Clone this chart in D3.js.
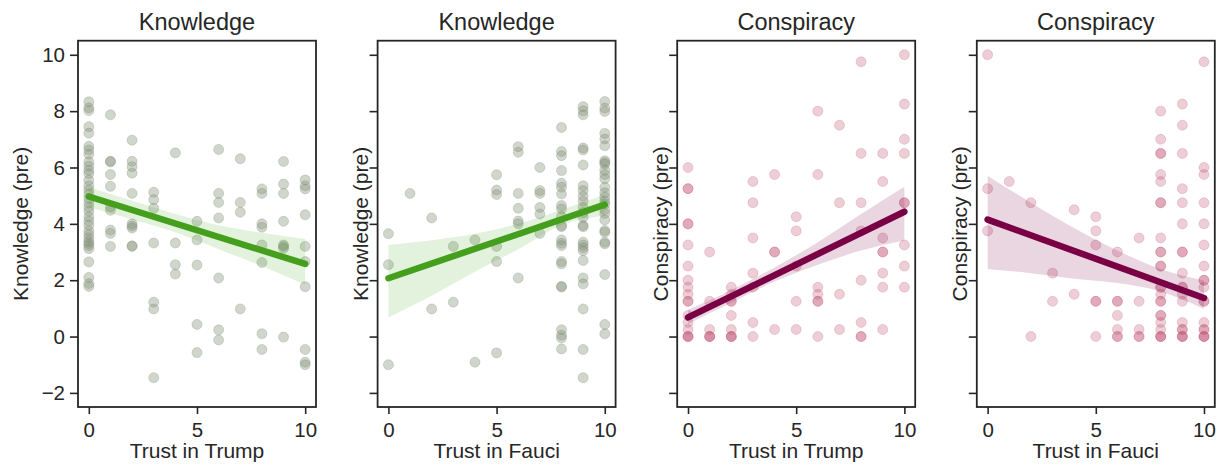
<!DOCTYPE html>
<html>
<head>
<meta charset="utf-8">
<script src="https://cdn.jsdelivr.net/npm/d3@7"></script>
<style>
  body { margin: 0; background: #fff; }
  svg text { font-family: "Liberation Sans", Arial, Helvetica, sans-serif; fill: #262626; }
</style>
</head>
<body>
<svg id="chart" width="1222" height="472"></svg>
<script>
// ---- data -------------------------------------------------------------
// Scores grouped by trust rating 0..10 (index = rating)
const knowledgeByTrumpTrust = [
  [8.33, 8.12, 8.02, 7.45, 7.22, 6.75, 6.62, 6.47, 6.2, 6.05, 5.9, 5.78, 5.55, 5.35, 5.2, 5.05, 4.9, 4.75, 4.6, 4.45, 4.25, 4.1, 3.95, 3.75, 3.62, 3.5, 3.38, 3.3, 3.22, 3.12, 2.65, 2.1, 1.88, 1.78],
  [7.87, 6.22, 6.2, 5.75, 5.33, 4.6, 4.48, 3.78, 3.66, 3.2],
  [6.97, 6.22, 6.03, 5.8, 5.08, 4.0, 3.92, 3.85, 3.22, 3.2],
  [5.12, 4.86, 4.55, 3.32, 1.22, 0.98, -1.46],
  [6.52, 3.32, 2.55, 2.22],
  [4.09, 3.43, 2.54, 0.43, -0.57],
  [6.64, 5.08, 4.76, 4.21, 2.08, 0.24, -0.12],
  [6.31, 4.76, 4.41, 0.98],
  [5.24, 5.08, 4.0, 3.88, 3.25, 2.63, 0.1, -0.46],
  [6.21, 5.41, 5.08, 4.09, 3.25, 3.2, 3.13, -0.02],
  [5.56, 5.35, 5.24, 4.32, 3.2, 2.66, 1.77, -0.46, -0.91, -1.0]
];
const knowledgeByFauciTrust = [
  [3.65, 2.55, -1.0],
  [5.08],
  [4.21, 0.98],
  [3.2, 1.22],
  [3.43, -0.91],
  [5.74, 5.2, 5.04, 3.2, 2.66, -0.58],
  [6.74, 6.54, 5.08, 4.55, 4.1, 4.0, 2.08],
  [6.0, 5.18, 5.08, 4.58, 4.35, 3.66],
  [7.42, 6.57, 6.42, 5.89, 5.44, 5.3, 5.06, 4.65, 4.53, 4.26, 3.94, 3.9, 3.43, 3.31, 3.23, 2.66, 2.58, 1.78, 1.76, 0.24, 0.05, -0.05, -0.44],
  [8.16, 8.01, 7.87, 6.69, 6.62, 6.09, 5.35, 5.18, 4.98, 4.8, 4.59, 4.4, 4.23, 3.94, 3.9, 3.35, 3.25, 3.15, 3.05, 2.7, 2.08, 1.87, 0.98, -0.46, -1.46],
  [8.34, 8.11, 7.99, 7.21, 7.01, 6.77, 6.24, 6.18, 6.12, 5.9, 5.75, 5.6, 5.3, 5.1, 4.95, 4.8, 4.7, 4.5, 4.37, 4.14, 3.76, 3.7, 3.35, 3.29, 2.2, 0.43, 0.1]
];
const conspiracyByTrumpTrust = [
  [6.0, 5.25, 5.25, 4.0, 4.0, 3.25, 2.5, 2.0, 1.75, 1.5, 1.25, 1.25, 0.75, 0.5, 0.25, 0, 0, 0],
  [3.0, 1.25, 0.25, 0, 0, 0],
  [1.75, 1.5, 1.25, 1.25, 0.75, 0.25, 0, 0, 0],
  [5.5, 4.75, 3.5, 2.25, 1.75, 0.5, 0],
  [5.75, 3.0, 3.0, 0.25],
  [4.25, 3.75, 2.5, 1.25, 0.25],
  [8.0, 5.75, 1.75, 1.5, 1.25, 1.25, 0],
  [7.5, 4.75, 1.5, 0.25],
  [9.75, 6.5, 4.75, 3.75, 2.0, 0.5, 0, 0],
  [6.5, 5.5, 3.5, 3.0, 3.0, 2.25, 1.75, 0.25],
  [10.0, 8.25, 7.0, 6.5, 4.75, 4.75, 3.25, 2.5, 1.75]
];
const conspiracyByFauciTrust = [
  [10.0, 5.25, 3.75],
  [5.5],
  [4.75, 0],
  [2.25, 1.25],
  [4.5, 1.5],
  [4.25, 3.75, 3.25, 1.25, 1.25, 0],
  [3.0, 1.25, 1.25, 0.75, 0.25, 0, 0],
  [3.5, 1.25, 0.25, 0, 0],
  [8.0, 7.0, 6.5, 6.5, 5.75, 5.5, 4.75, 4.75, 3.5, 3.0, 3.0, 2.5, 2.5, 1.75, 1.75, 1.5, 1.25, 1.25, 0.75, 0.75, 0.5, 0.25, 0, 0, 0],
  [8.25, 7.5, 6.5, 5.25, 4.75, 4.0, 3.0, 3.0, 2.25, 1.75, 1.75, 1.5, 1.25, 0.5, 0.25, 0.25, 0, 0, 0],
  [9.75, 6.0, 5.75, 4.75, 4.0, 3.25, 2.5, 2.0, 2.0, 1.75, 1.25, 1.25, 0.5, 0.25, 0.25, 0, 0, 0]
];

// Fitted regression lines (value at rating 0 and rating 10)
const fitKnowledgeTrump = [4.97, 2.58];
const fitKnowledgeFauci = [2.07, 4.68];
const fitConspiracyTrump = [0.68, 4.43];
const fitConspiracyFauci = [4.15, 1.37];

// 95% confidence band, sampled at these ratings
const bandRatings = [0, 2, 4, 6, 8, 10];
const bandKnowledgeTrumpLow  = [4.6, 4.15, 3.7, 3.1, 2.5, 1.84];
const bandKnowledgeTrumpHigh = [5.3, 4.82, 4.35, 3.95, 3.68, 3.46];
const bandKnowledgeFauciLow  = [0.68, 1.45, 2.3, 3.1, 3.95, 4.29];
const bandKnowledgeFauciHigh = [3.25, 3.42, 3.65, 4.0, 4.5, 5.04];
const bandConspiracyTrumpLow  = [0.45, 1.2, 1.95, 2.55, 3.05, 3.42];
const bandConspiracyTrumpHigh = [0.95, 1.65, 2.45, 3.35, 4.35, 5.32];
const bandConspiracyFauciLow  = [2.4, 2.25, 2.05, 1.9, 1.6, 0.98];
const bandConspiracyFauciHigh = [5.71, 4.75, 3.85, 3.05, 2.4, 1.99];

const titles  = ["Knowledge", "Knowledge", "Conspiracy", "Conspiracy"];
const xLabels = ["Trust in Trump", "Trust in Fauci", "Trust in Trump", "Trust in Fauci"];
const yLabels = ["Knowledge (pre)", "Knowledge (pre)", "Conspiracy (pre)", "Conspiracy (pre)"];
const xTickValues = [0, 5, 10];
const yTickValues = [-2, 0, 2, 4, 6, 8, 10];

// ---- styling ----------------------------------------------------------
const greenTheme  = { point: "#7f8c74", line: "#44a01c", band: "#4caf26" };
const purpleTheme = { point: "#c0506e", line: "#7a0046", band: "#7a0046" };

const panels = [
  { groups: knowledgeByTrumpTrust,  fit: fitKnowledgeTrump,  lo: bandKnowledgeTrumpLow,  hi: bandKnowledgeTrumpHigh,  theme: greenTheme,  pointAlpha: 0.36 },
  { groups: knowledgeByFauciTrust,  fit: fitKnowledgeFauci,  lo: bandKnowledgeFauciLow,  hi: bandKnowledgeFauciHigh,  theme: greenTheme,  pointAlpha: 0.36 },
  { groups: conspiracyByTrumpTrust, fit: fitConspiracyTrump, lo: bandConspiracyTrumpLow, hi: bandConspiracyTrumpHigh, theme: purpleTheme, pointAlpha: 0.28 },
  { groups: conspiracyByFauciTrust, fit: fitConspiracyFauci, lo: bandConspiracyFauciLow, hi: bandConspiracyFauciHigh, theme: purpleTheme, pointAlpha: 0.28 }
];

// ---- layout -----------------------------------------------------------
const firstLeft = 78, panelW = 238, panelStep = 299.6;
const plotTop = 40.7, plotBottom = 407;

const svg = d3.select("#chart");

const y = d3.scaleLinear().domain([-2.5, 10.5]).range([plotBottom, plotTop]);

panels.forEach((p, i) => {
  const left = firstLeft + i * panelStep;
  const x = d3.scaleLinear().domain([-0.5, 10.5]).range([left, left + panelW]);
  const g = svg.append("g");

  // scatter points (fill and edge drawn with the same translucent colour)
  const pts = [];
  p.groups.forEach((vals, rating) => vals.forEach(v => pts.push([rating, v])));
  g.append("g").selectAll("circle").data(pts).join("circle")
    .attr("cx", d => x(d[0]))
    .attr("cy", d => y(d[1]))
    .attr("r", 5)
    .attr("fill", p.theme.point)
    .attr("fill-opacity", p.pointAlpha)
    .attr("stroke", p.theme.point)
    .attr("stroke-opacity", p.pointAlpha * 0.8)
    .attr("stroke-width", 1);

  // confidence band
  const bandData = bandRatings.map((r, k) => ({ r, lo: p.lo[k], hi: p.hi[k] }));
  g.append("path")
    .datum(bandData)
    .attr("fill", p.theme.band)
    .attr("fill-opacity", 0.16)
    .attr("d", d3.area()
      .x(d => x(d.r))
      .y0(d => y(d.lo))
      .y1(d => y(d.hi))
      .curve(d3.curveMonotoneX));

  // regression line
  g.append("line")
    .attr("x1", x(0)).attr("y1", y(p.fit[0]))
    .attr("x2", x(10)).attr("y2", y(p.fit[1]))
    .attr("stroke", p.theme.line)
    .attr("stroke-width", 6.5)
    .attr("stroke-linecap", "round");

  // frame
  g.append("rect")
    .attr("x", left).attr("y", plotTop)
    .attr("width", panelW).attr("height", plotBottom - plotTop)
    .attr("fill", "none")
    .attr("stroke", "#262626")
    .attr("stroke-width", 1.8);

  // axes
  const yAxis = d3.axisLeft(y).tickValues(yTickValues).tickSize(8).tickPadding(5);
  if (i > 0) yAxis.tickFormat("");
  const ya = g.append("g").attr("transform", `translate(${left},0)`).call(yAxis);
  const xAxis = d3.axisBottom(x).tickValues(xTickValues).tickSize(7).tickPadding(8);
  const xa = g.append("g").attr("transform", `translate(0,${plotBottom})`).call(xAxis);
  [ya, xa].forEach(a => {
    a.select(".domain").remove();
    a.selectAll(".tick line").attr("stroke", "#262626").attr("stroke-width", 1.6);
    a.selectAll(".tick text").attr("font-size", 20.5).attr("fill", "#262626")
      .style("font-family", "'Liberation Sans', Arial, sans-serif");
  });

  // title
  g.append("text")
    .attr("x", left + panelW / 2).attr("y", 30)
    .attr("text-anchor", "middle")
    .attr("font-size", 23.5)
    .text(titles[i]);

  // x label
  g.append("text")
    .attr("x", x(5)).attr("y", 458)
    .attr("text-anchor", "middle")
    .attr("font-size", 21)
    .text(xLabels[i]);

  // y label
  const yLabelX = i === 0 ? 21 : left - 17;
  g.append("text")
    .attr("transform", `translate(${yLabelX},${(plotTop + plotBottom) / 2}) rotate(-90)`)
    .attr("dy", "0.35em")
    .attr("text-anchor", "middle")
    .attr("font-size", 21)
    .text(yLabels[i]);
});
</script>
</body>
</html>
